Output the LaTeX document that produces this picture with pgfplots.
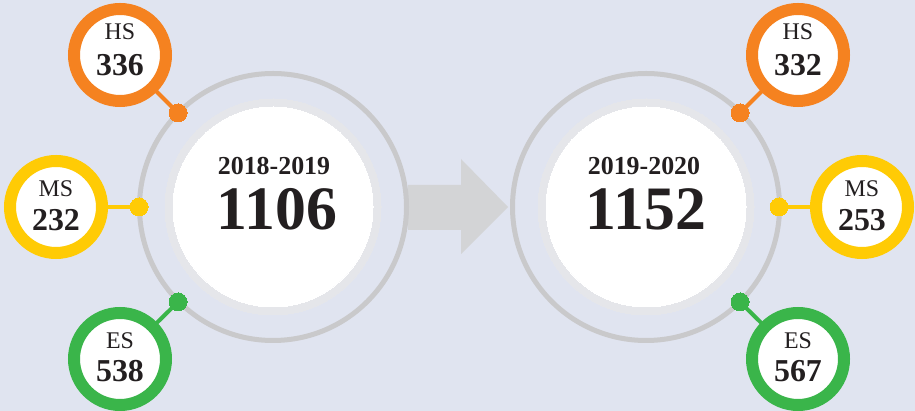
\documentclass[border=0pt]{standalone}
\usepackage{pgfplots}
\pgfplotsset{compat=1.18}
\usepackage{fontspec}
\setmainfont{Liberation Serif}

\definecolor{bg}{HTML}{E0E4F0}
\definecolor{hs}{HTML}{F58220}
\definecolor{ms}{HTML}{FFCB05}
\definecolor{es}{HTML}{3AB54A}
\definecolor{ring}{HTML}{C9C9CB}
\definecolor{rim}{HTML}{E5E6EA}
\definecolor{arrow}{HTML}{D3D4D6}
\definecolor{ink}{HTML}{231F20}

\pgfplotsset{
  txt/.style={draw=none, mark=none, nodes near coords, point meta=explicit symbolic,
    nodes near coords style={anchor=center, text=ink, inner sep=0pt, font=#1}},
  disc/.style 2 args={only marks, color=#1, mark=*, mark size=#2,
    mark options={draw=#1, fill=#1, line width=0pt}},
}

\begin{document}
\begin{tikzpicture}
\begin{axis}[
    width=915bp, height=411bp, scale only axis,
    xmin=0, xmax=915, ymin=0, ymax=411,
    hide axis, clip marker paths=true,
  ]
  % background
  \addplot[fill=bg, draw=none] coordinates {(0,0) (915,0) (915,411) (0,411)} -- cycle;

  % arrow between the two years
  \addplot[fill=arrow, draw=none] coordinates
    {(408,181) (461,181) (461,157) (508,204) (461,252) (461,226) (408,226)} -- cycle;

  % big rings
  \addplot[only marks, color=ring, mark=o, mark size=133.5bp, mark options={draw=ring, line width=5bp}]
    coordinates {(273,204) (646,204)};
  \addplot[disc={rim}{108bp}] coordinates {(273,204) (646,204)};
  \addplot[disc={white}{100bp}] coordinates {(273,204) (646,204)};

  % connectors
  \addplot[hs, line width=4bp] coordinates {(178,298) (120,356)};
  \addplot[ms, line width=4bp] coordinates {(139,204) (56,204)};
  \addplot[es, line width=4bp] coordinates {(178,109) (120,52)};
  \addplot[hs, line width=4bp] coordinates {(740,298) (798,356)};
  \addplot[ms, line width=4bp] coordinates {(779,204) (862,204)};
  \addplot[es, line width=4bp] coordinates {(740,109) (798,52)};

  % dots on the rings
  \addplot[disc={hs}{9bp}] coordinates {(178,298) (740,298)};
  \addplot[disc={ms}{9bp}] coordinates {(139,204) (779,204)};
  \addplot[disc={es}{9bp}] coordinates {(178,109) (740,109)};

  % school circles
  \addplot[only marks, color=hs, mark=*, mark size=46bp, mark options={draw=hs, fill=white, line width=12bp}]
    coordinates {(120,356) (798,356)};
  \addplot[only marks, color=ms, mark=*, mark size=46bp, mark options={draw=ms, fill=white, line width=12bp}]
    coordinates {(56,204) (862,204)};
  \addplot[only marks, color=es, mark=*, mark size=46bp, mark options={draw=es, fill=white, line width=12bp}]
    coordinates {(120,52) (798,52)};

  % labels
  \addplot[txt={\fontsize{24}{26}\selectfont}] coordinates
    {(120,379) [HS] (56,222) [MS] (120,70) [ES] (798,379) [HS] (862,222) [MS] (798,70) [ES]};
  \addplot[txt={\fontsize{32}{34}\selectfont\bfseries}] coordinates
    {(120,346) [336] (56,191) [232] (120,40) [538] (798,346) [332] (862,191) [253] (798,40) [567]};
  \addplot[txt={\fontsize{26}{28}\selectfont\bfseries}] coordinates
    {(274,245) [2018-2019] (644,245) [2019-2020]};
  \addplot[txt={\fontsize{62}{66}\selectfont\bfseries}] coordinates
    {(277,202) [1106] (646,202) [1152]};
\end{axis}
\end{tikzpicture}
\end{document}
